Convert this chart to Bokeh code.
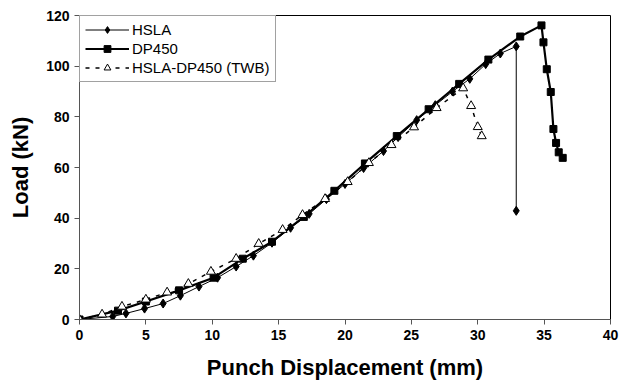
from bokeh.plotting import figure
from bokeh.models import Range1d, Legend, LegendItem, FixedTicker
from bokeh.embed import file_html
from bokeh.resources import INLINE

# Data
hsla_x = [0, 2.5, 3.5, 4.9, 6.3, 7.6, 9.0, 10.4, 11.8, 13.1, 14.5, 15.9, 17.3, 18.6, 20.0,
          21.4, 22.9, 24.0, 25.4, 26.8, 28.1, 29.4, 30.6, 31.7, 32.9, 32.9]
hsla_y = [0, 1.2, 2.4, 4.3, 6.3, 9.4, 13.0, 16.5, 20.9, 25.2, 30.3, 36.2, 41.7, 47.5, 53.5,
          59.8, 66.5, 72.0, 78.7, 84.6, 90.0, 95.0, 100.8, 105.0, 107.8, 42.9]

dp_x = [0, 2.9, 5.0, 7.5, 10.1, 12.3, 14.5, 16.9, 19.2, 21.5, 23.9, 26.3, 28.6, 30.8, 33.2,
        34.8, 34.95, 35.2, 35.5, 35.7, 35.9, 36.1, 36.4]
dp_y = [0, 3.5, 7.1, 11.5, 16.5, 24.0, 30.7, 40.5, 50.8, 61.6, 72.4, 83.0, 93.0, 102.6, 111.7,
        116.1, 109.4, 98.8, 89.8, 75.2, 69.7, 66.0, 63.8]

twb_x = [0, 1.7, 3.2, 5.0, 6.6, 8.2, 9.9, 11.8, 13.5, 15.3, 16.8, 18.5, 20.2, 21.8, 23.5,
         25.2, 26.9, 28.9, 29.5, 30.0, 30.3]
twb_y = [0, 2.0, 5.1, 7.9, 10.7, 14.1, 18.9, 24.0, 29.9, 35.4, 41.3, 47.6, 54.3, 61.8, 68.9,
         75.9, 83.5, 91.3, 84.3, 76.0, 72.4]

x_ticks = [0, 5, 10, 15, 20, 25, 30, 35, 40]
y_ticks = [0, 20, 40, 60, 80, 100, 120]

FONT = "Liberation Sans"

p = figure(width=632, height=382, output_backend="svg", toolbar_location=None,
           x_range=Range1d(0, 40), y_range=Range1d(0, 120),
           min_border_left=79, min_border_right=22, min_border_top=15, min_border_bottom=62)
p.background_fill_color = "white"
p.border_fill_color = "white"
p.outline_line_color = "black"
p.outline_line_width = 1
p.xgrid.visible = False
p.ygrid.visible = False

for ax, ticks in ((p.xaxis[0], x_ticks), (p.yaxis[0], y_ticks)):
    ax.ticker = FixedTicker(ticks=ticks)
    ax.minor_tick_line_color = None
    ax.major_tick_in = 0
    ax.major_tick_out = 5
    ax.axis_line_color = "#555555"
    ax.major_tick_line_color = "#555555"
    ax.major_label_text_font = FONT
    ax.major_label_text_font_style = "bold"
    ax.major_label_text_font_size = "14px"
    ax.major_label_text_color = "black"
    ax.axis_label_text_font = FONT
    ax.axis_label_text_font_style = "bold"
    ax.axis_label_text_font_size = "22px"
    ax.axis_label_text_color = "black"

p.xaxis.axis_label = "Punch Displacement (mm)"
p.yaxis.axis_label = "Load (kN)"
p.xaxis.axis_label_standoff = 12
p.yaxis.axis_label_standoff = 10

l1 = p.line(hsla_x, hsla_y, line_color="black", line_width=1)
s1 = p.scatter(hsla_x, hsla_y, marker="diamond", size=9, fill_color="black", line_color="black")
l2 = p.line(dp_x, dp_y, line_color="black", line_width=2.2)
s2 = p.scatter(dp_x, dp_y, marker="square", size=7, fill_color="black", line_color="black")
l3 = p.line(twb_x, twb_y, line_color="black", line_width=1.5, line_dash="4 6")
s3 = p.scatter(twb_x, twb_y, marker="triangle", size=9, fill_color="white", line_color="black")

legend = Legend(items=[
    LegendItem(label="HSLA", renderers=[l1, s1]),
    LegendItem(label="DP450", renderers=[l2, s2]),
    LegendItem(label="HSLA-DP450 (TWB)", renderers=[l3, s3]),
], location="top_left")
legend.margin = 0
legend.padding = 5
legend.spacing = 2
legend.label_text_font = FONT
legend.label_text_font_size = "15px"
legend.label_text_color = "black"
legend.label_height = 17
legend.glyph_height = 17
legend.glyph_width = 44
legend.label_standoff = 3
legend.border_line_color = "#444444"
legend.border_line_width = 1
legend.background_fill_alpha = 1
p.add_layout(legend)

open("out.html", "w").write(file_html(p, INLINE))
